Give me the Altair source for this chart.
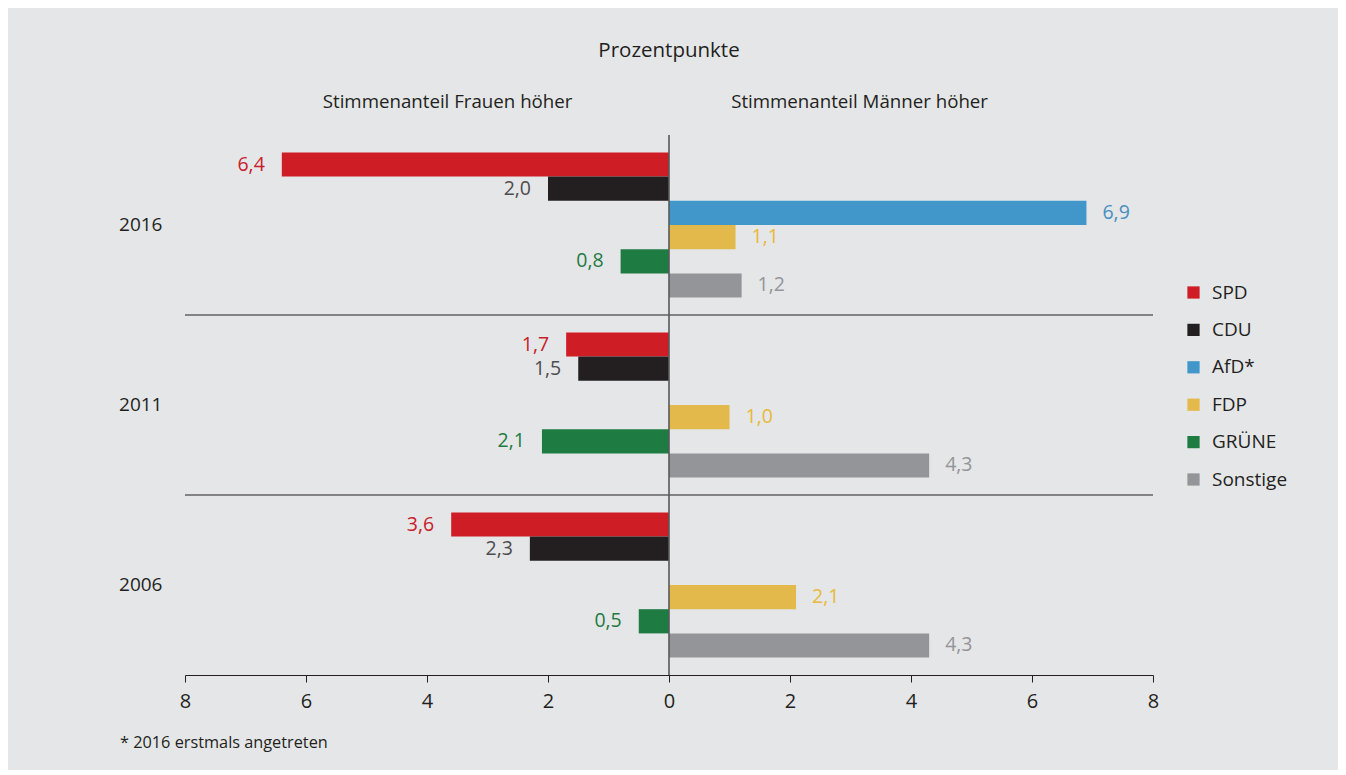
import altair as alt
import pandas as pd

years = ["2016", "2011", "2006"]
parties = ["SPD", "CDU", "AfD*", "FDP", "GRÜNE", "Sonstige"]
bar_colors = ["#cf1d25", "#231f20", "#4197c9", "#e2b94a", "#1e7b42", "#939598"]
text_colors = ["#c8202a", "#4d4d4f", "#4a8fbf", "#e8b93a", "#1e7b42", "#939598"]

# negative = Frauen höher, positive = Männer höher; None = not running
values_2016 = [-6.4, -2.0, 6.9, 1.1, -0.8, 1.2]
values_2011 = [-1.7, -1.5, None, 1.0, -2.1, 4.3]
values_2006 = [-3.6, -2.3, None, 2.1, -0.5, 4.3]

rows = []
for yr, vals in zip(years, [values_2016, values_2011, values_2006]):
    for p, v in zip(parties, vals):
        if v is None:
            continue
        rows.append({"year": yr, "party": p, "value": v,
                     "label": f"{abs(v):.1f}".replace(".", ",")})
df = pd.DataFrame(rows)

FONT = "Open Sans"
DARK = "#231f20"

y_enc = alt.Y("year:N", sort=years,
              scale=alt.Scale(domain=years, paddingInner=0, paddingOuter=0),
              axis=alt.Axis(title=None, ticks=False, domain=False, labelFontSize=19,
                            labelColor=DARK, labelPadding=23, labelFont=FONT))
yoff_enc = alt.YOffset("party:N", sort=parties,
                       scale=alt.Scale(domain=parties, paddingInner=0, paddingOuter=0.72))
x_scale = alt.Scale(domain=[-8, 8], nice=False, zero=False)
x_enc = alt.X("value:Q", scale=x_scale,
              axis=alt.Axis(title=None, values=[-8, -6, -4, -2, 0, 2, 4, 6, 8],
                            labelExpr="abs(datum.value)", grid=False, labelFlush=False,
                            domainColor=DARK, tickColor=DARK, tickSize=7,
                            labelFontSize=20, labelColor=DARK, labelPadding=9,
                            labelFont=FONT))

base = alt.Chart(df)

bars = base.mark_bar(size=24.2).encode(
    x=x_enc,
    y=y_enc,
    yOffset=yoff_enc,
    color=alt.Color("party:N", sort=parties,
                    scale=alt.Scale(domain=parties, range=bar_colors),
                    legend=alt.Legend(title=None, orient="none", legendX=999, legendY=148,
                                      symbolType="square", symbolSize=150,
                                      symbolStrokeWidth=0, labelFontSize=19,
                                      labelColor=DARK, labelFont=FONT, rowPadding=17.4,
                                      labelOffset=9)),
)

text_color = alt.Color("party:N", scale=alt.Scale(domain=parties, range=text_colors),
                       legend=None)

neg_text = base.transform_filter("datum.value < 0").mark_text(
    align="right", baseline="middle", dx=-17, fontSize=19.5, font=FONT
).encode(x="value:Q", y=alt.Y("year:N", sort=years), yOffset=yoff_enc,
         text="label:N", color=text_color)

pos_text = base.transform_filter("datum.value > 0").mark_text(
    align="left", baseline="middle", dx=16, fontSize=19.5, font=FONT
).encode(x="value:Q", y=alt.Y("year:N", sort=years), yOffset=yoff_enc,
         text="label:N", color=text_color)

dividers = alt.Chart(pd.DataFrame({"year": years[1:]})).mark_rule(
    color=DARK, strokeWidth=1.2
).encode(y=alt.Y("year:N", sort=years, bandPosition=0))

zero_line = alt.Chart(pd.DataFrame({"v": [0]})).mark_rule(
    color="#58595b", strokeWidth=1.6
).encode(x=alt.X("v:Q", scale=x_scale))

title_df = pd.DataFrame({"x": [0], "t": ["Prozentpunkte"], "py": [-84]})
title = alt.Chart(title_df).mark_text(
    align="center", baseline="middle", fontSize=20.5, font=FONT, color=DARK
).encode(x=alt.X("x:Q", scale=x_scale), y=alt.Y("py:Q", scale=None), text="t:N")

heads = pd.DataFrame({
    "x": [-3.66, 3.15],
    "t": ["Stimmenanteil Frauen höher", "Stimmenanteil Männer höher"],
    "py": [-33, -33],
})
headers = alt.Chart(heads).mark_text(
    align="center", baseline="middle", fontSize=18.7, font=FONT, color=DARK
).encode(x=alt.X("x:Q", scale=x_scale), y=alt.Y("py:Q", scale=None), text="t:N")

foot = alt.Chart(pd.DataFrame({"t": ["* 2016 erstmals angetreten"]})).mark_text(
    align="left", baseline="middle", fontSize=16.3, font=FONT, color=DARK
).encode(x=alt.value(-65), y=alt.value(608), text="t:N")

chart = alt.layer(bars, dividers, zero_line, neg_text, pos_text, title, headers, foot).resolve_scale(
    color="independent"
).properties(
    width=968, height=540,
    autosize=alt.AutoSizeParams(type="none"),
    padding={"left": 177, "top": 127, "right": 185, "bottom": 95},
    background="#e5e6e8",
).configure_view(stroke=None)

chart.save("out.html", embed_options={"renderer": "svg", "actions": False})
